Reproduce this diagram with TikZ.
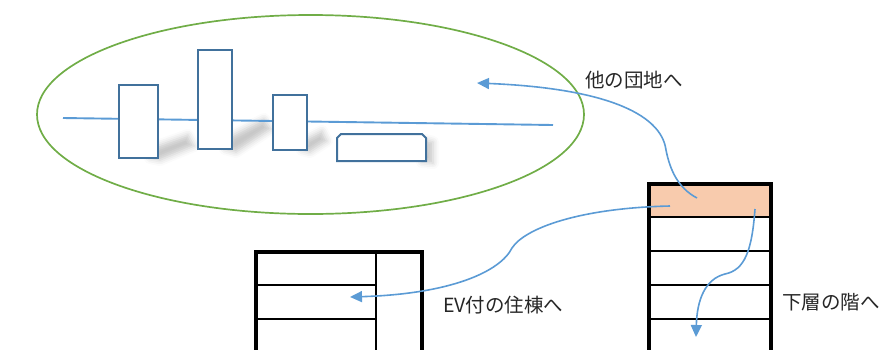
\documentclass[tikz,border=0pt]{standalone}
\usepackage{fontspec}
\newfontfamily\jp{Noto Sans CJK JP}
\usetikzlibrary{arrows.meta,shapes.geometric,shadows.blur}
\definecolor{rectblue}{HTML}{41719C}
\definecolor{lineblue}{HTML}{5B9BD5}
\definecolor{elgreen}{HTML}{70AD47}
\definecolor{floorfill}{HTML}{F8CBAD}
\definecolor{txt}{HTML}{262626}
\begin{document}
\begin{tikzpicture}[x=1pt,y=-1pt,
  block/.style={draw=rectblue, line width=2pt, fill=white, inner sep=0pt, anchor=north west},
  flow/.style={draw=lineblue, line width=1.6pt, -{Triangle[length=12pt,width=11pt]}},
  wallbox/.style={draw=black, line width=3.8pt, inner sep=0pt, anchor=north west},
  floorline/.style={draw=black, line width=2.2pt},
  lbl/.style={font=\jp\fontsize{19.5}{22}\selectfont, text=txt, inner sep=0pt, anchor=west},
  softshade/.style={blur shadow={shadow xshift=0pt, shadow yshift=0pt, shadow blur radius=6pt, shadow opacity=22}}
]
\useasboundingbox (0,0) rectangle (879,349);

% estate ellipse
\node[draw=elgreen, line width=1.7pt, ellipse, minimum width=547pt, minimum height=199pt, inner sep=0pt] (estate) at (310.5,114.5) {};

% shadows
\path[softshade] (150,158) -- (157,146) -- (188,135) -- (194,146) -- (160,160) -- cycle;
\path[softshade] (225,149) -- (231,136) -- (264,119) -- (271,129) -- (236,152) -- cycle;
\path[softshade] (302,150) -- (306,139) -- (322,131) -- (327,141) -- (310,152) -- cycle;
\path[softshade] (422,162) -- (426,140) -- (433,142) -- (433,163) -- cycle;

% road line
\coordinate (l0) at (63,118);
\coordinate (l1) at (553,125);
\draw[draw=lineblue, line width=1.9pt] (l0) -- (l1);

% buildings in the estate
\node[block, minimum width=39pt, minimum height=73pt] (b1) at (118,84) {};
\node[block, minimum width=34pt, minimum height=99pt] (b2) at (197,49) {};
\node[block, minimum width=34pt, minimum height=55pt] (b3) at (272,94) {};
\draw[draw=rectblue, line width=2pt, fill=white] (337,161) -- (337,138) -- (341,134) -- (422,134) -- (426,138) -- (426,161) -- cycle;

% right building (current)
\fill[floorfill] (647,182) rectangle (769,217);
\draw[floorline] (647,217) -- (769,217);
\draw[floorline] (647,251) -- (769,251);
\draw[floorline] (647,285) -- (769,285);
\draw[floorline] (647,319) -- (769,319);
\node[wallbox, minimum width=122pt, minimum height=190pt] (rb) at (647,182) {};

% left building with EV
\draw[floorline] (254,285) -- (376,285);
\draw[floorline] (254,319) -- (376,319);
\draw[line width=2.8pt] (376,250) -- (376,360);
\node[wallbox, minimum width=166pt, minimum height=120pt] (lb) at (254,250) {};

% labels
\node[lbl] (t1) at (585,80) {他の団地へ};
\node[lbl] (t2) at (443,305) {EV付の住棟へ};
\node[lbl] (t3) at (782,302) {下層の階へ};

% arrows
\coordinate (s1) at (697,198);
\coordinate (e1) at (477,83);
\coordinate (s2) at (670,206);
\coordinate (e2) at (350,297);
\coordinate (s3) at (755,209);
\coordinate (e3) at (696,337);
\draw[flow] (s1) .. controls (678,188) and (670,170) .. (666,150) .. controls (661,112) and (600,88) .. (e1);
\draw[flow] (s2) .. controls (580,208) and (525,228) .. (512,248) .. controls (500,272) and (450,294) .. (e2);
\draw[flow] (s3) .. controls (752,250) and (745,270) .. (725,274) .. controls (705,279) and (697,300) .. (e3);
\end{tikzpicture}
\end{document}
